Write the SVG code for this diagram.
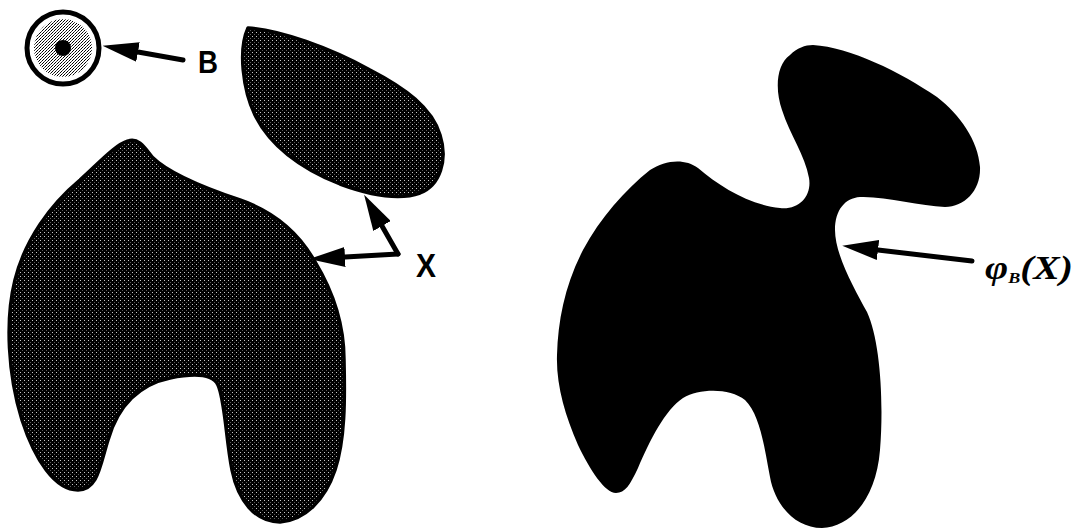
<svg xmlns="http://www.w3.org/2000/svg" width="1076" height="529" viewBox="0 0 1076 529">
  <style>
    .outline { stroke: #000; stroke-width: 3.5; stroke-linejoin: round; }
    .dark { fill: url(#stipDark); }
    .solid { fill: #000; }
    .conn { stroke: #000; stroke-width: 5; fill: none; stroke-linecap: round; marker-end: url(#head); }
    .lbl { font-family: "Liberation Sans", Arial, sans-serif; font-weight: bold; fill: #000; }
    .math { font-family: "Liberation Serif", "Times New Roman", serif; font-weight: bold; font-style: italic; fill: #000; }
  </style>
  <defs>
    <pattern id="stipDark" width="4" height="4" patternUnits="userSpaceOnUse">
      <rect width="4" height="4" fill="#000"/>
      <rect x="0" y="0" width="1" height="1" fill="#c8c8c8"/>
      <rect x="2" y="2" width="1" height="1" fill="#5a5a5a"/>
    </pattern>
    <pattern id="stipLight" width="3" height="3" patternUnits="userSpaceOnUse">
      <rect width="3" height="3" fill="#ffffff"/>
      <rect x="0" y="0" width="1" height="1" fill="#000"/>
      <rect x="1" y="2" width="1" height="1" fill="#000"/>
      <rect x="2" y="1" width="1" height="1" fill="#444"/>
    </pattern>
    <marker id="head" viewBox="0 0 36 20" refX="0" refY="10" markerWidth="36" markerHeight="20" markerUnits="userSpaceOnUse" orient="auto">
      <path d="M0,0 L36,10 L0,20 Z" fill="#000"/>
    </marker>
  </defs>

  <g id="structuring-element-B">
    <circle cx="63" cy="48" r="36" fill="#fff" stroke="#000" stroke-width="5"/>
    <circle cx="63" cy="48" r="29" fill="url(#stipLight)"/>
    <circle cx="63" cy="48" r="8" fill="#000"/>
  </g>

  <g id="set-X-leaf">
    <path class="outline dark" d="M 248,28 C 280,30 330,48 370,70 C 405,88 432,108 440,135 C 448,160 440,185 420,193 C 400,200 370,195 340,184 C 300,168 270,145 255,115 C 243,90 238,50 248,28 Z"/>
  </g>

  <g id="set-X-blob">
    <path class="outline dark" d="M 128,141 C 138,137 145,148 152,157 C 170,175 210,190 240,200 C 275,212 300,235 315,262 C 335,295 344,330 344,360 C 345,400 345,440 335,470 C 325,500 305,520 280,522 C 255,522 238,500 232,470 C 226,440 225,400 218,385 C 212,372 190,374 170,378 C 140,384 118,405 108,440 C 100,465 98,490 78,490 C 55,490 35,460 22,420 C 8,375 5,320 15,280 C 25,240 50,205 80,180 C 100,162 115,145 128,141 Z"/>
  </g>

  <g id="closing-phiB-X">
    <path class="solid" d="M 813,45 C 850,47 900,72 937,97 C 960,115 978,140 980,167 C 981,190 965,207 945,207 C 920,206 885,196 860,197 C 845,198 835,210 835,230 C 835,255 855,290 867,312 C 880,340 884,400 880,450 C 876,500 850,527 822,528 C 795,528 775,505 770,477 C 764,445 760,415 745,400 C 730,388 700,388 683,398 C 665,410 650,440 638,468 C 630,485 625,493 616,493 C 605,493 590,470 578,445 C 565,415 556,385 557,355 C 558,320 565,285 583,250 C 600,218 625,190 650,170 C 665,160 685,158 698,168 C 720,187 750,205 780,208 C 800,210 812,195 809,178 C 805,155 790,135 782,110 C 775,90 776,65 790,55 C 797,48 805,45 813,45 Z"/>
  </g>

  <g id="connectors">
    <line class="conn" x1="183" y1="60" x2="138" y2="52"/>
    <line class="conn" x1="398" y1="254" x2="345" y2="257"/>
    <line class="conn" x1="398" y1="254" x2="382" y2="226"/>
    <line class="conn" x1="972" y1="261" x2="878" y2="250"/>
  </g>

  <g id="labels">
    <text class="lbl" x="198" y="73" font-size="32" textLength="20" lengthAdjust="spacingAndGlyphs">B</text>
    <text class="lbl" x="416" y="277" font-size="34" textLength="20" lengthAdjust="spacingAndGlyphs">X</text>
    <text class="math" x="985" y="279" font-size="33" textLength="88" lengthAdjust="spacingAndGlyphs">φ<tspan font-size="15" dy="4">B</tspan><tspan dy="-4">(X)</tspan></text>
  </g>
</svg>
